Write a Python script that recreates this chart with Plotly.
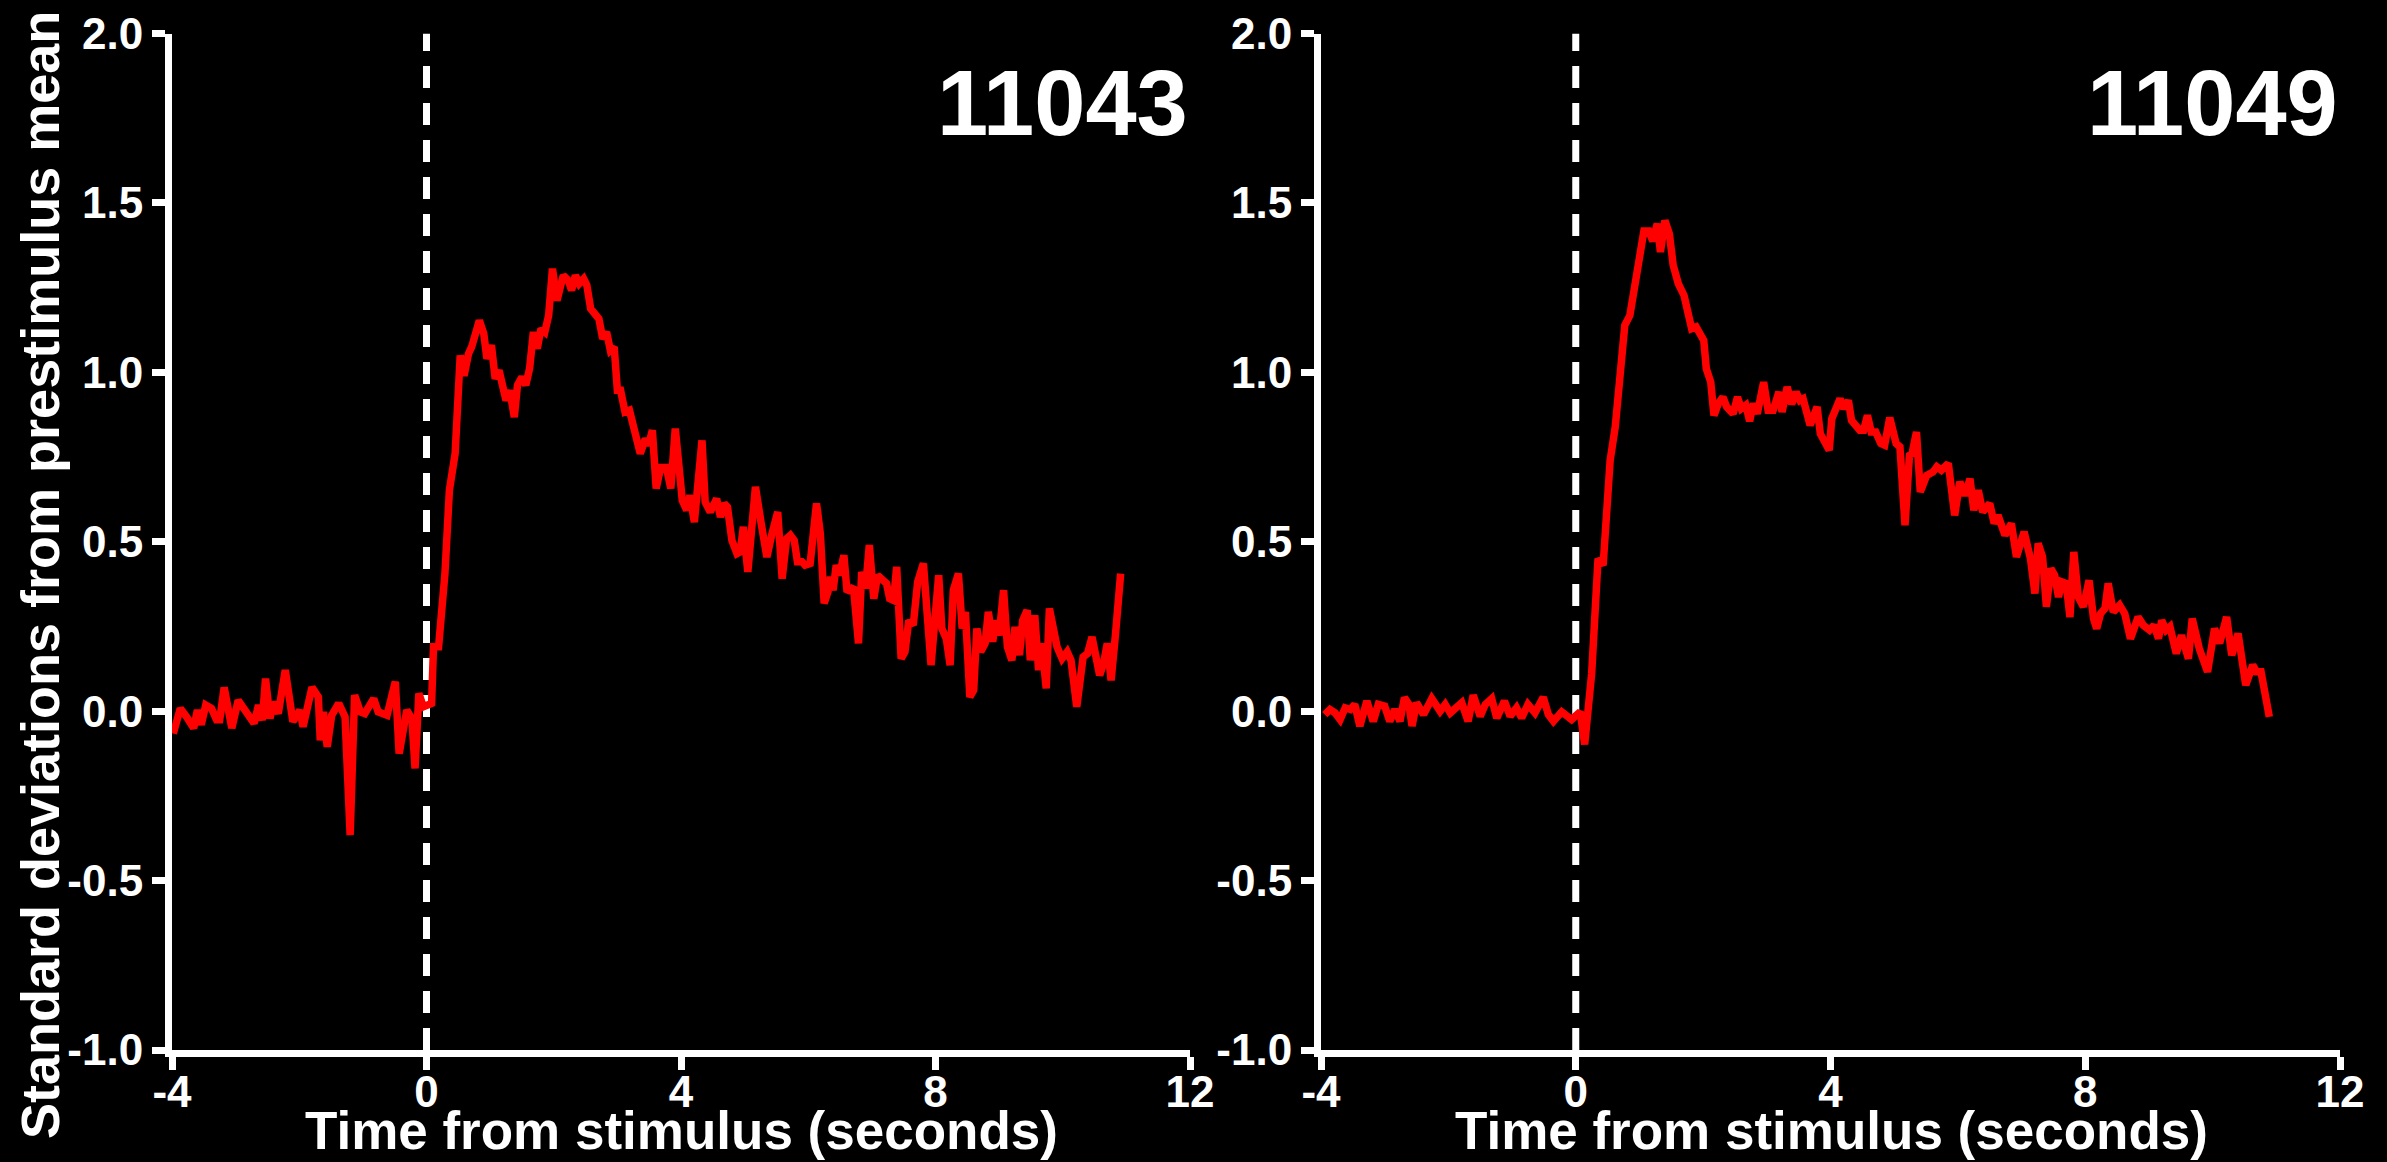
import plotly.graph_objects as go

# ---------------- data ----------------
t_11043 = [-3.98, -3.87, -3.77, -3.66, -3.60, -3.54, -3.47, -3.38, -3.30, -3.25, -3.18, -3.06, -2.96, -2.83,
           -2.71, -2.64, -2.58, -2.53, -2.46, -2.41, -2.33, -2.22, -2.10, -1.99, -1.94, -1.80, -1.70, -1.67,
           -1.62, -1.56, -1.49, -1.38, -1.28, -1.20, -1.13, -1.04, -0.97, -0.83, -0.76, -0.62, -0.49, -0.43,
           -0.31, -0.23, -0.18, -0.12, -0.05, 0.08, 0.11, 0.19, 0.29, 0.36, 0.45, 0.53, 0.59, 0.66, 0.71,
           0.83, 0.90, 0.95, 1.02, 1.08, 1.14, 1.25, 1.31, 1.38, 1.43, 1.50, 1.56, 1.62, 1.68, 1.74, 1.80,
           1.86, 1.92, 1.98, 2.05, 2.15, 2.23, 2.28, 2.34, 2.40, 2.47, 2.52, 2.58, 2.71, 2.77, 2.83, 2.89,
           2.95, 3.00, 3.05, 3.12, 3.19, 3.30, 3.36, 3.44, 3.49, 3.55, 3.61, 3.68, 3.77, 3.84, 3.91, 3.99,
           4.02, 4.09, 4.14, 4.21, 4.33, 4.38, 4.46, 4.56, 4.62, 4.68, 4.73, 4.80, 4.88, 4.93, 4.98, 5.05,
           5.17, 5.26, 5.35, 5.43, 5.52, 5.59, 5.66, 5.72, 5.78, 5.83, 5.90, 5.95, 6.03, 6.13, 6.19, 6.25,
           6.31, 6.35, 6.39, 6.44, 6.49, 6.56, 6.61, 6.71, 6.79, 6.84, 6.90, 6.96, 7.03, 7.09, 7.17, 7.23,
           7.28, 7.34, 7.39, 7.46, 7.52, 7.58, 7.65, 7.72, 7.81, 7.93, 8.05, 8.10, 8.17, 8.23, 8.28, 8.36,
           8.42, 8.47, 8.54, 8.60, 8.65, 8.71, 8.78, 8.83, 8.90, 8.94, 9.00, 9.07, 9.13, 9.20, 9.25, 9.32,
           9.37, 9.44, 9.49, 9.56, 9.62, 9.67, 9.74, 9.79, 9.91, 9.99, 10.07, 10.13, 10.22, 10.32, 10.39,
           10.46, 10.58, 10.64, 10.70, 10.76, 10.83, 10.91]
sd_11043 = [-0.066, 0.008, -0.017, -0.050, 0.003, -0.040, 0.018, 0.008, -0.025, -0.025, 0.070, -0.050, 0.032,
            -0.002, -0.036, 0.018, -0.027, 0.096, -0.022, 0.027, -0.007, 0.121, -0.031, 0.003, -0.046, 0.070,
            0.042, -0.086, -0.002, -0.105, -0.012, 0.023, -0.017, -0.366, 0.047, -0.002, -0.007, 0.037, -0.002,
            -0.012, 0.087, -0.125, 0.003, -0.022, -0.169, 0.052, 0.013, 0.023, 0.190, 0.190, 0.406, 0.652,
            0.760, 1.050, 0.990, 1.055, 1.075, 1.153, 1.114, 1.040, 1.080, 0.981, 1.006, 0.917, 0.947, 0.868,
            0.962, 0.986, 0.962, 1.011, 1.119, 1.070, 1.129, 1.119, 1.168, 1.306, 1.212, 1.286, 1.271, 1.242,
            1.286, 1.262, 1.276, 1.257, 1.188, 1.158, 1.099, 1.119, 1.065, 1.075, 0.947, 0.947, 0.883, 0.888,
            0.794, 0.760, 0.804, 0.785, 0.829, 0.657, 0.719, 0.719, 0.657, 0.834, 0.681, 0.622, 0.593, 0.637,
            0.558, 0.799, 0.617, 0.588, 0.627, 0.573, 0.613, 0.603, 0.504, 0.465, 0.470, 0.544, 0.411, 0.662,
            0.554, 0.455, 0.524, 0.588, 0.391, 0.509, 0.519, 0.504, 0.441, 0.441, 0.431, 0.436, 0.613, 0.524,
            0.318, 0.352, 0.396, 0.357, 0.431, 0.401, 0.460, 0.352, 0.367, 0.200, 0.411, 0.362, 0.490, 0.332,
            0.401, 0.391, 0.377, 0.332, 0.327, 0.426, 0.155, 0.175, 0.268, 0.254, 0.382, 0.436, 0.136, 0.401,
            0.244, 0.214, 0.136, 0.357, 0.406, 0.244, 0.293, 0.042, 0.062, 0.244, 0.175, 0.200, 0.293, 0.205,
            0.268, 0.224, 0.357, 0.190, 0.150, 0.249, 0.165, 0.268, 0.298, 0.150, 0.283, 0.121, 0.200, 0.067,
            0.303, 0.190, 0.155, 0.175, 0.150, 0.013, 0.160, 0.170, 0.219, 0.106, 0.140, 0.200, 0.091, 0.229,
            0.406]

t_11049 = [-3.94, -3.86, -3.78, -3.70, -3.62, -3.54, -3.47, -3.39, -3.28, -3.18, -3.10, -3.00, -2.92, -2.84,
           -2.76, -2.69, -2.62, -2.57, -2.50, -2.39, -2.26, -2.13, -2.05, -1.97, -1.79, -1.69, -1.61, -1.50,
           -1.42, -1.32, -1.24, -1.12, -1.03, -0.93, -0.85, -0.75, -0.64, -0.51, -0.43, -0.35, -0.22, -0.065,
           0.07, 0.14, 0.25, 0.30, 0.35, 0.43, 0.48, 0.54, 0.62, 0.69, 0.77, 0.85, 0.90, 0.98, 1.07, 1.15,
           1.21, 1.28, 1.33, 1.40, 1.47, 1.53, 1.61, 1.70, 1.77, 1.82, 1.89, 1.95, 2.01, 2.05, 2.12, 2.17,
           2.24, 2.31, 2.37, 2.47, 2.54, 2.60, 2.67, 2.73, 2.79, 2.85, 2.95, 3.02, 3.10, 3.19, 3.24, 3.32,
           3.39, 3.46, 3.52, 3.57, 3.68, 3.79, 3.84, 3.98, 4.02, 4.15, 4.21, 4.28, 4.33, 4.46, 4.52, 4.58,
           4.64, 4.71, 4.79, 4.85, 4.93, 5.03, 5.09, 5.17, 5.24, 5.28, 5.35, 5.41, 5.51, 5.61, 5.67, 5.74,
           5.85, 5.95, 6.03, 6.11, 6.19, 6.25, 6.32, 6.39, 6.50, 6.57, 6.63, 6.74, 6.84, 6.92, 7.04, 7.14,
           7.21, 7.26, 7.33, 7.39, 7.46, 7.52, 7.58, 7.63, 7.70, 7.76, 7.82, 7.89, 7.97, 8.06, 8.13, 8.18,
           8.24, 8.31, 8.36, 8.44, 8.54, 8.62, 8.71, 8.83, 8.91, 9.01, 9.08, 9.15, 9.20, 9.27, 9.33, 9.43,
           9.51, 9.62, 9.68, 9.79, 9.92, 10.03, 10.11, 10.22, 10.30, 10.40, 10.52, 10.63, 10.69, 10.76,
           10.82, 10.89]
sd_11049 = [-0.010, 0.005, -0.005, -0.025, 0.010, 0.005, 0.020, -0.044, 0.030, -0.030, 0.020, 0.015, -0.030,
            0.005, -0.030, 0.040, 0.020, -0.044, 0.025, -0.010, 0.037, 0.000, 0.020, -0.005, 0.025, -0.030,
            0.047, -0.015, 0.020, 0.037, -0.020, 0.030, -0.015, 0.010, -0.020, 0.020, -0.005, 0.041, -0.010,
            -0.030, -0.002, -0.025, -0.002, -0.098, 0.111, 0.337, 0.450, 0.431, 0.578, 0.740, 0.839, 0.996,
            1.139, 1.168, 1.222, 1.335, 1.417, 1.417, 1.387, 1.439, 1.355, 1.448, 1.409, 1.316, 1.262, 1.227,
            1.153, 1.129, 1.134, 1.109, 1.094, 1.011, 0.971, 0.873, 0.908, 0.927, 0.898, 0.878, 0.927, 0.893,
            0.903, 0.856, 0.908, 0.878, 0.971, 0.888, 0.888, 0.942, 0.883, 0.957, 0.906, 0.942, 0.917, 0.922,
            0.844, 0.898, 0.819, 0.770, 0.863, 0.922, 0.893, 0.917, 0.858, 0.829, 0.829, 0.873, 0.824, 0.824,
            0.790, 0.785, 0.866, 0.790, 0.780, 0.549, 0.755, 0.760, 0.824, 0.647, 0.696, 0.706, 0.721, 0.711,
            0.731, 0.578, 0.677, 0.637, 0.686, 0.593, 0.652, 0.588, 0.613, 0.554, 0.578, 0.519, 0.554, 0.455,
            0.529, 0.450, 0.347, 0.495, 0.455, 0.308, 0.421, 0.401, 0.337, 0.382, 0.377, 0.278, 0.470, 0.337,
            0.308, 0.386, 0.273, 0.244, 0.288, 0.303, 0.377, 0.293, 0.313, 0.288, 0.214, 0.278, 0.254, 0.239,
            0.254, 0.214, 0.268, 0.239, 0.249, 0.170, 0.224, 0.155, 0.273, 0.185, 0.116, 0.244, 0.200, 0.278,
            0.165, 0.229, 0.077, 0.136, 0.116, 0.116, 0.062, -0.017]

panel_titles = ["11043", "11049"]
x_ticks = [-4, 0, 4, 8, 12]
x_tick_text = ["-4", "0", "4", "8", "12"]
y_ticks = [-1.0, -0.5, 0.0, 0.5, 1.0, 1.5, 2.0]
y_tick_text = ["-1.0", "-0.5", "0.0", "0.5", "1.0", "1.5", "2.0"]
x_title = "Time from stimulus (seconds)"
y_title = "Standard deviations from prestimulus mean"

# ---------------- layout helpers ----------------
W, H = 2387, 1162
def px(x):
    return x / W
def py(y):
    return 1 - y / H

FONT = "Liberation Sans, Arial, sans-serif"
RED = "#ff0000"

fig = go.Figure()
fig.add_trace(go.Scatter(x=t_11043, y=sd_11043, mode="lines", line=dict(color=RED, width=7.5),
                         xaxis="x", yaxis="y", showlegend=False))
fig.add_trace(go.Scatter(x=t_11049, y=sd_11049, mode="lines", line=dict(color=RED, width=7.5),
                         xaxis="x2", yaxis="y2", showlegend=False))

axis_common = dict(showgrid=False, zeroline=False, showline=True, linecolor="white", linewidth=7,
                   ticks="outside", tickcolor="white", tickwidth=7, ticklen=13, automargin=False,
                   tickfont=dict(family=FONT, size=44, color="white", weight="bold"))

ydom = [py(1050), py(33.5)]
fig.update_layout(
    template="none",
    width=W, height=H, margin=dict(l=0, r=0, t=0, b=0, pad=0),
    paper_bgcolor="black", plot_bgcolor="black",
    font=dict(family=FONT, color="white"),
    xaxis=dict(domain=[px(172), px(1190)], range=[-4, 12], tickvals=x_ticks, ticktext=x_tick_text,
               anchor="y", ticklabelstandoff=-16, **axis_common),
    yaxis=dict(domain=ydom, range=[-1, 2], tickvals=y_ticks, ticktext=y_tick_text, anchor="x", **axis_common),
    xaxis2=dict(domain=[px(1321), px(2340)], range=[-4, 12], tickvals=x_ticks, ticktext=x_tick_text,
                anchor="y2", ticklabelstandoff=-16, **axis_common),
    yaxis2=dict(domain=ydom, range=[-1, 2], tickvals=y_ticks, ticktext=y_tick_text, anchor="x2", **axis_common),
)

# dashed stimulus lines
for xr, yr in [("x", "y"), ("x2", "y2")]:
    fig.add_shape(type="line", xref=xr, yref=yr, x0=0, x1=0, y0=-1, y1=2,
                  line=dict(color="white", width=7, dash="22px,15px"), layer="below")

annotations = []
for i, right_px in enumerate([1190, 2340]):
    annotations.append(dict(text=panel_titles[i], xref="paper", yref="paper", x=px(right_px), y=py(103),
                            xanchor="right", yanchor="middle", showarrow=False,
                            font=dict(family=FONT, size=92, color="white", weight="bold")))
for cx in [681, 1831]:
    annotations.append(dict(text=x_title, xref="paper", yref="paper", x=px(cx), y=py(1130),
                            xanchor="center", yanchor="middle", showarrow=False,
                            font=dict(family=FONT, size=53, color="white", weight="bold")))
annotations.append(dict(text=y_title, xref="paper", yref="paper", x=px(40), y=py(575),
                        xanchor="center", yanchor="middle", showarrow=False, textangle=-90,
                        font=dict(family=FONT, size=54, color="white", weight="bold")))
fig.update_layout(annotations=annotations)

fig.write_html("out.html")
